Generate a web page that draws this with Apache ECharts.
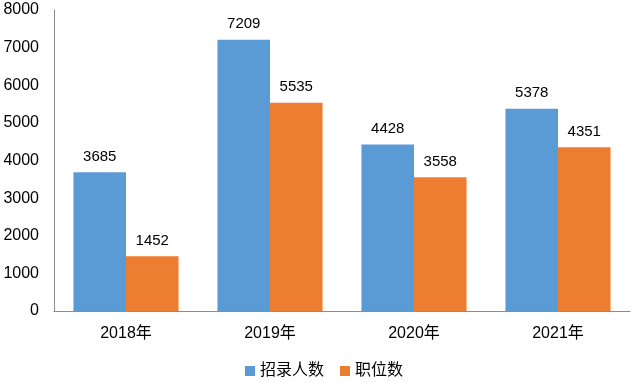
<!DOCTYPE html>
<html><head><meta charset="utf-8">
<script src="https://cdn.jsdelivr.net/npm/echarts@6/dist/echarts.min.js"></script>
<style>html,body{margin:0;padding:0;background:#fff}#c{width:637px;height:383px}</style>
</head><body><div id="c"></div>
<script>
const categories = ['2018年','2019年','2020年','2021年'];
const recruits = [3685, 7209, 4428, 5378];
const positions = [1452, 5535, 3558, 4351];
const seriesNames = ['招录人数','职位数'];
const font = "'Liberation Sans','Noto Sans CJK SC',sans-serif";
const chart = echarts.init(document.getElementById('c'));
chart.setOption({
  animation:false,
  backgroundColor:'#fff',
  grid:{left:54,right:7,top:10,bottom:72,containLabel:false},
  legend:{top:358,left:240,itemWidth:10,itemHeight:10,itemGap:16,icon:'rect',
    textStyle:{fontSize:16,color:'#000',fontFamily:font},data:seriesNames},
  xAxis:{type:'category',data:categories,
    axisLine:{lineStyle:{color:'#8c8c8c',width:1}},axisTick:{show:false},
    axisLabel:{fontSize:16,color:'#000',fontFamily:font,margin:15}},
  yAxis:{type:'value',min:0,max:8000,interval:1000,
    axisLine:{show:true,lineStyle:{color:'#8c8c8c',width:1}},axisTick:{show:false},
    splitLine:{show:false},
    axisLabel:{fontSize:16,color:'#000',fontFamily:font,margin:15,formatter:v=>String(v)}},
  series:[
    {name:seriesNames[0],type:'bar',data:recruits,barGap:'0%',barCategoryGap:'27%',
     itemStyle:{color:'#5B9BD5'},
     label:{show:true,position:'top',distance:8,fontSize:15,color:'#000',fontFamily:font}},
    {name:seriesNames[1],type:'bar',data:positions,barGap:'0%',barCategoryGap:'27%',
     itemStyle:{color:'#ED7D31'},
     label:{show:true,position:'top',distance:8,fontSize:15,color:'#000',fontFamily:font}}
  ]
});
</script></body></html>
